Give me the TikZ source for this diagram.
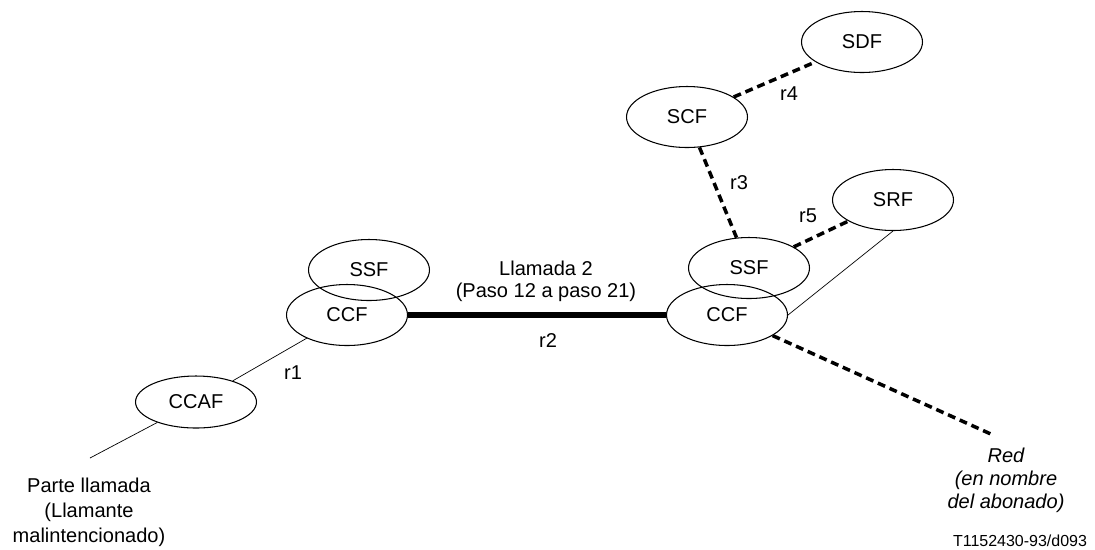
\documentclass[tikz,border=0pt]{standalone}
\usepackage{fontspec}
\setmainfont{Liberation Sans}
\usetikzlibrary{shapes.geometric}
\tikzset{
	func/.style={ellipse, draw=black, line width=0.6pt, minimum width=2.42cm, minimum height=1.22cm, inner sep=0pt, font=\fontsize{11.4}{14}\selectfont},
	reflink/.style={black, line width=0.4pt},
	callink/.style={black, line width=3pt},
	dashlink/.style={black, line width=2pt, dash pattern=on 4.5pt off 2.8pt},
	reflabel/.style={font=\fontsize{11.4}{14}\selectfont},
	endlabel/.style={align=center, font=\fontsize{11.4}{14.2}\selectfont},
}

\begin{document}
\begin{tikzpicture}[x=0.02cm, y=-0.02cm]
	\useasboundingbox (0,0) rectangle (1095,549);

	% Calling party side
	\node[func] (ssfL) at (369,270) {SSF};
	\node[func] (ccfL) at (347,315) {CCF};
	\node[func, minimum height=1.04cm] (ccaf) at (196,402) {CCAF};
	\coordinate (partyEnd) at (90,458);

	\draw[reflink] (partyEnd) -- (ccaf);
	\draw[reflink] (ccaf) -- (ccfL);

	% Network side
	\node[func] (ssfR) at (749,268) {SSF};
	\node[func] (ccfR) at (727,315) {CCF};
	\node[func] (scf) at (687,117) {SCF};
	\node[func] (sdf) at (862,42) {SDF};
	\node[func] (srf) at (893,200) {SRF};
	\coordinate (redEnd) at (993,435);

	% Relations
	\draw[callink] (ccfL) -- (ccfR);
	\draw[reflink] (ccfR.east) -- (srf.south);
	\draw[dashlink] (ssfR) -- (srf);
	\draw[dashlink] (scf) -- (ssfR);
	\draw[dashlink] (scf) -- (sdf);
	\draw[dashlink] (ccfR) -- (redEnd);

	% Relation labels
	\node[reflabel] (r1) at (293,373) {r1};
	\node[reflabel] (r2) at (548,340) {r2};
	\node[reflabel] (r3) at (739,183) {r3};
	\node[reflabel] (r4) at (789,94) {r4};
	\node[reflabel] (r5) at (808,216) {r5};
	\node[endlabel, font=\fontsize{11.4}{12.5}\selectfont] (call2) at (546,281) {Llamada 2\\(Paso 12 a paso 21)};

	% End labels
	\node[endlabel] (party) at (89,512) {Parte llamada\\(Llamante\\malintencionado)};
	\node[endlabel, font=\fontsize{11.4}{13}\itshape] (red) at (1006,480) {Red\\(en nombre\\del abonado)};
	\node[font=\fontsize{9.1}{11}\selectfont] (figid) at (1020,541) {T1152430-93/d093};

\end{tikzpicture}
\end{document}
